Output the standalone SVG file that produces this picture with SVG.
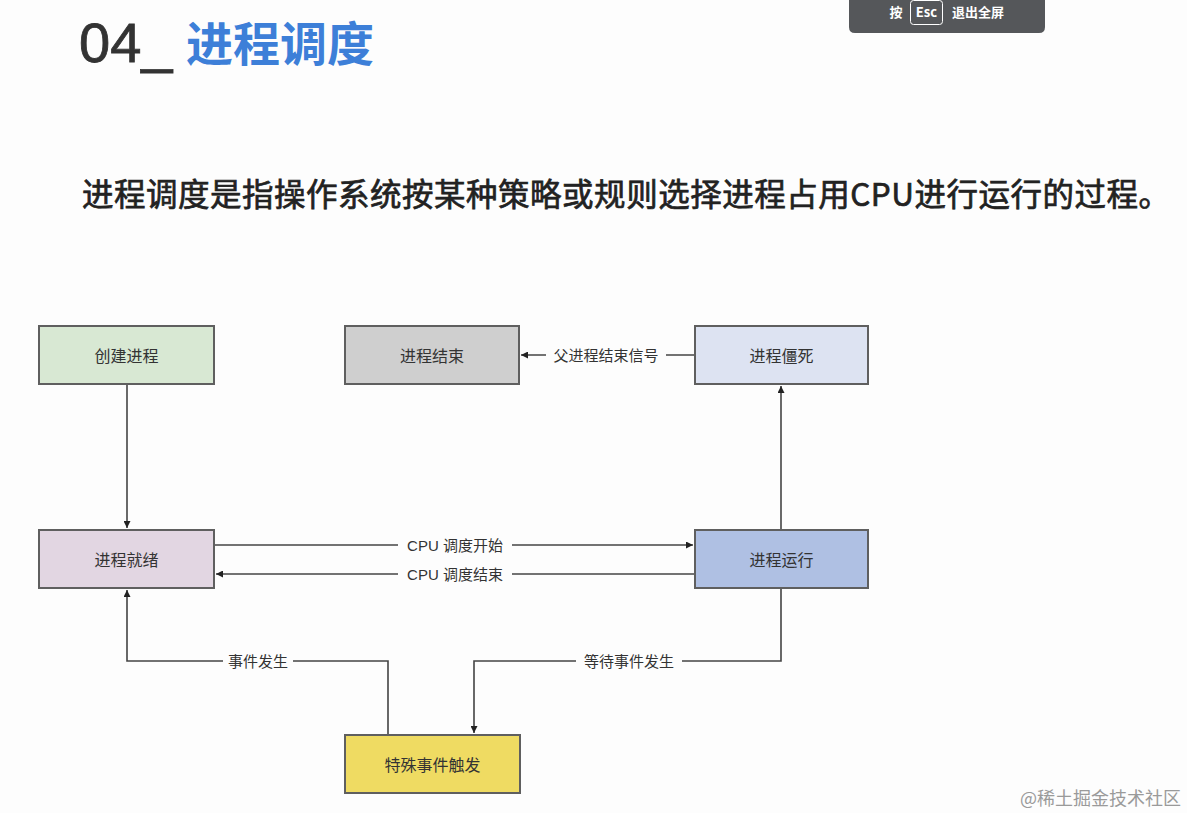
<svg xmlns="http://www.w3.org/2000/svg" width="1187" height="813" viewBox="0 0 1187 813">
<defs>
<style>
.node rect{stroke:#5f5f5f;stroke-width:2}
.node text{font-family:"Noto Sans CJK SC","Liberation Sans",sans-serif;font-size:16px;fill:#333;text-anchor:middle;dominant-baseline:central}
.edge{fill:none;stroke:#444;stroke-width:1.6}
.lbl{font-family:"Liberation Sans","Noto Sans CJK SC",sans-serif;font-size:15px;fill:#333;text-anchor:middle;dominant-baseline:central}
.lblbg{fill:#fdfdfd}
.esc{font-family:"Noto Sans CJK SC",sans-serif;font-size:13px;font-weight:bold;fill:#fff;text-anchor:middle;dominant-baseline:central}
</style>
<marker id="arr" viewBox="0 0 10 10" refX="10" refY="5" markerWidth="7" markerHeight="7" orient="auto" markerUnits="userSpaceOnUse">
<path d="M0,0 L10,5 L0,10 Z" fill="#222"/>
</marker>
</defs>
<rect width="1187" height="813" fill="#fdfdfd"/>
<g id="title">
<text x="79" y="62" font-family="Liberation Sans,sans-serif" font-size="56" fill="#333" stroke="#333" stroke-width="0.8">04_</text>
<text x="186" y="61" font-family="Noto Sans CJK SC,sans-serif" font-size="47" font-weight="bold" fill="#3d7fd8">进程调度</text>
</g>
<g id="escbar">
<path d="M849,0 H1045 V27 Q1045,33 1039,33 H855 Q849,33 849,27 Z" fill="#55575a"/>
<text class="esc" x="896" y="11">按</text>
<rect x="910.5" y="0.5" width="32" height="24" rx="3" fill="none" stroke="#fff" stroke-width="1"/>
<text class="esc" x="926.5" y="11" font-family="Liberation Sans,sans-serif" font-size="12">Esc</text>
<text class="esc" x="978" y="11">退出全屏</text>
</g>
<text id="subtitle" x="82" y="206" font-family="Noto Sans CJK SC,sans-serif" font-size="31.5" fill="#222" stroke="#222" stroke-width="0.7" textLength="1088">进程调度是指操作系统按某种策略或规则选择进程占用CPU进行运行的过程。</text>
<g id="connectors">
<path class="edge" d="M127,384 V528" marker-end="url(#arr)"/>
<path class="edge" d="M214,545 H693" marker-end="url(#arr)"/>
<path class="edge" d="M695,574 H216" marker-end="url(#arr)"/>
<path class="edge" d="M781,530 V386" marker-end="url(#arr)"/>
<path class="edge" d="M695,355 H521" marker-end="url(#arr)"/>
<path class="edge" d="M388,735 V661 H127 V590" marker-end="url(#arr)"/>
<path class="edge" d="M781,588 V661 H474 V733" marker-end="url(#arr)"/>
<rect class="lblbg" x="398" y="535" width="114" height="20"/>
<text class="lbl" x="455" y="545">CPU 调度开始</text>
<rect class="lblbg" x="398" y="564" width="114" height="20"/>
<text class="lbl" x="455" y="574">CPU 调度结束</text>
<rect class="lblbg" x="546" y="345" width="120" height="20"/>
<text class="lbl" x="606" y="355">父进程结束信号</text>
<rect class="lblbg" x="223" y="651" width="70" height="20"/>
<text class="lbl" x="258" y="661">事件发生</text>
<rect class="lblbg" x="576" y="651" width="106" height="20"/>
<text class="lbl" x="629" y="661">等待事件发生</text>
</g>
<g id="n-create" class="node"><rect x="39" y="326" width="175" height="58" fill="#d8e8d3"/><text x="126.5" y="355">创建进程</text></g>
<g id="n-end" class="node"><rect x="345" y="326" width="174" height="58" fill="#cfcfcf"/><text x="432" y="355">进程结束</text></g>
<g id="n-zombie" class="node"><rect x="695" y="326" width="173" height="58" fill="#dde3f2"/><text x="781.5" y="355">进程僵死</text></g>
<g id="n-ready" class="node"><rect x="39" y="530" width="175" height="58" fill="#e2d6e2"/><text x="126.5" y="559">进程就绪</text></g>
<g id="n-run" class="node"><rect x="695" y="530" width="173" height="58" fill="#afc0e3"/><text x="781.5" y="559">进程运行</text></g>
<g id="n-event" class="node"><rect x="345" y="735" width="175" height="58" fill="#efdb62"/><text x="432.5" y="764">特殊事件触发</text></g>
<text x="1020" y="797" font-family="Noto Sans CJK SC,sans-serif" font-size="18" fill="#9a9a9a" dominant-baseline="central">@稀土掘金技术社区</text>
</svg>
